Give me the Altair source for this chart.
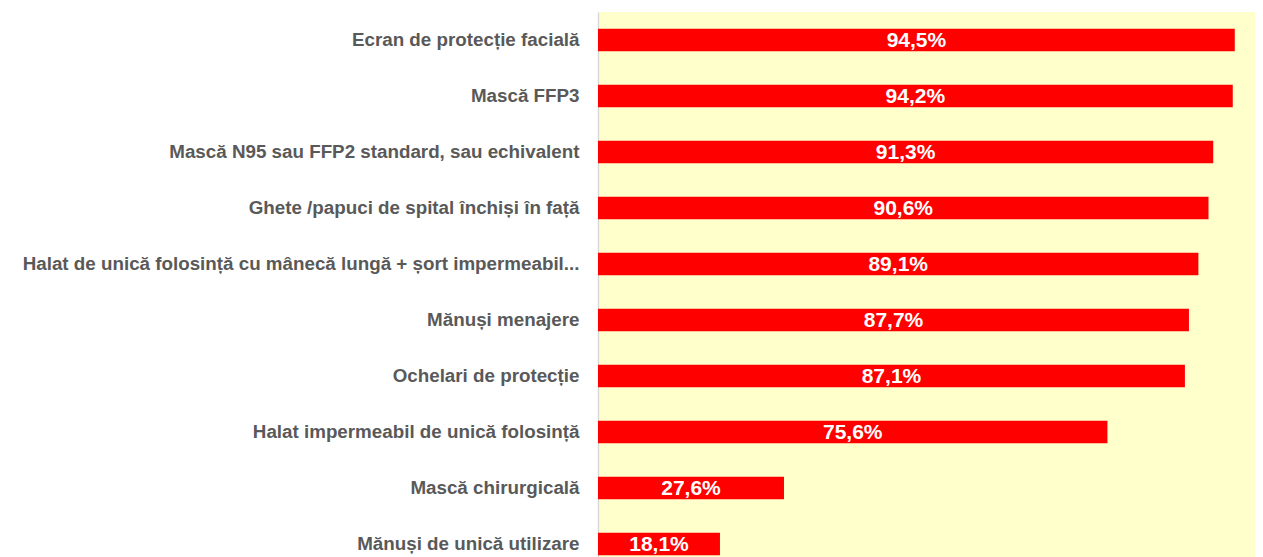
import altair as alt
import pandas as pd

categories = [
    "Ecran de protecție facială",
    "Mască FFP3",
    "Mască N95 sau FFP2 standard, sau echivalent",
    "Ghete /papuci de spital închiși în față",
    "Halat de unică folosință cu mânecă lungă + șort impermeabil...",
    "Mănuși menajere",
    "Ochelari de protecție",
    "Halat impermeabil de unică folosință",
    "Mască chirurgicală",
    "Mănuși de unică utilizare",
]
values = [94.5, 94.2, 91.3, 90.6, 89.1, 87.7, 87.1, 75.6, 27.6, 18.1]
value_labels = ["94,5%", "94,2%", "91,3%", "90,6%", "89,1%", "87,7%", "87,1%", "75,6%", "27,6%", "18,1%"]

df = pd.DataFrame({"cat": categories, "val": values, "lbl": value_labels})
df["half"] = df["val"] / 2

y = alt.Y("cat:N", sort=categories, title=None,
          scale=alt.Scale(paddingInner=0.6, paddingOuter=0.3),
          axis=alt.Axis(labelFont="Liberation Sans", labelFontWeight="bold",
                        labelFontSize=18.8, labelColor="#595959", labelLimit=700,
                        labelPadding=19, ticks=False, domainColor="#D9D9D9",
                        domainWidth=1.5, grid=False))
x = alt.X("val:Q", title=None, scale=alt.Scale(domain=[0, 97.5], nice=False),
          axis=None)

bars = alt.Chart(df).mark_bar(color="#FF0000").encode(x=x, y=y)
text = alt.Chart(df).mark_text(color="white", font="Liberation Sans", fontWeight="bold",
                               fontSize=21, align="center", baseline="middle", dy=1).encode(
    x=alt.X("half:Q", axis=None), y=alt.Y("cat:N", sort=categories), text="lbl:N")

chart = alt.layer(bars, text).properties(
    width=657, height=560,
    autosize=alt.AutoSizeParams(type="none"),
    padding={"left": 590, "top": 4, "right": 0, "bottom": 0},
    background="white",
).configure_view(fill="#FFFFCC", stroke=None)

chart.save("out.html", embed_options={"renderer": "svg", "actions": False})
